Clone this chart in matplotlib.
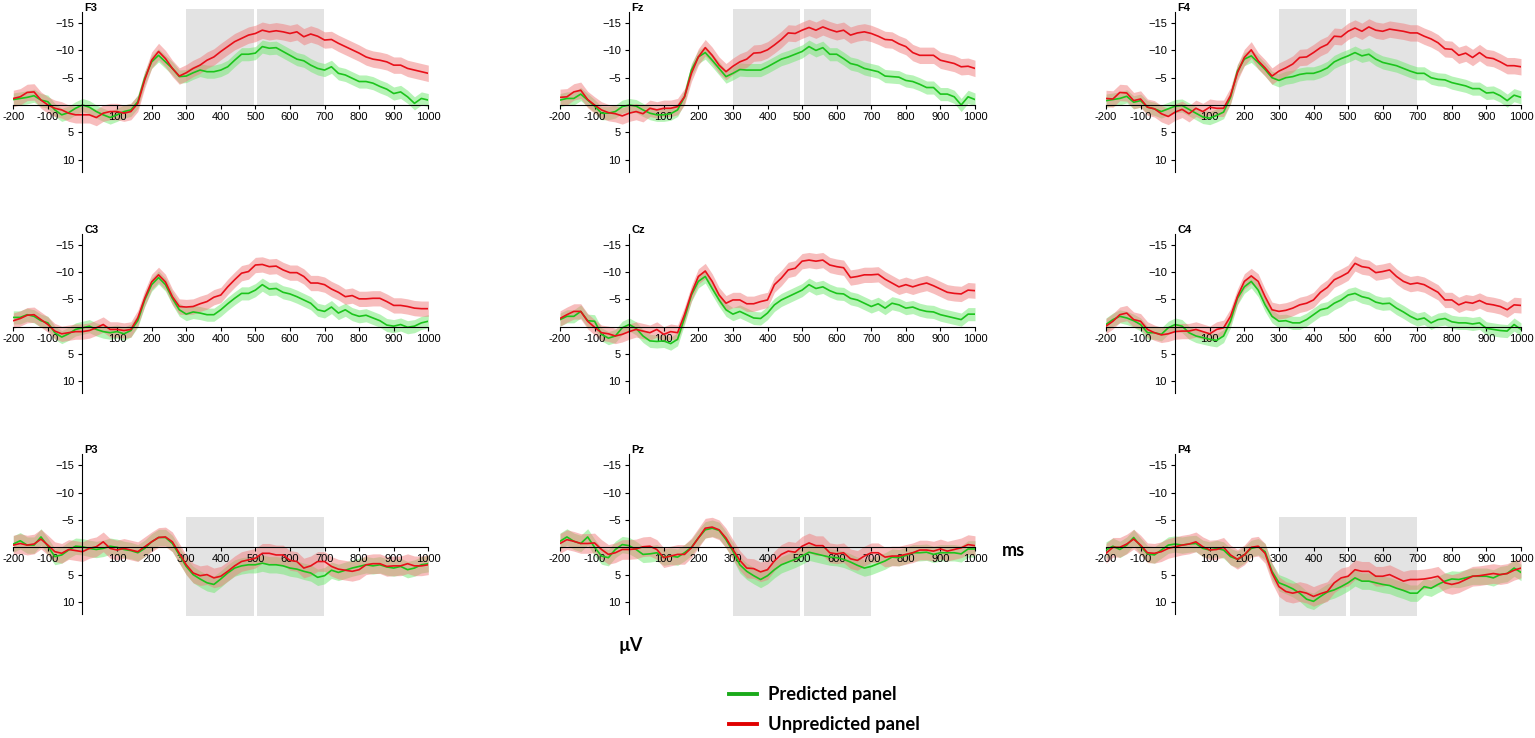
import numpy as np
import matplotlib
matplotlib.use('Agg')
import matplotlib.pyplot as plt
from matplotlib.lines import Line2D

# time axis (ms), one reading every 20 ms
times = np.arange(-200, 1001, 20)

# amplitudes in µV (negative is drawn up)
f3_pred = [-1.0, -1.2, -1.4, -1.7, -0.9, -0.6, 0.9, 1.8, 1.4, 0.6, 0.0, 0.4, 1.2, 1.8, 2.3, 1.8, 1.2, 0.9, -0.6, -4.9,
           -7.9, -9.1, -7.9, -6.7, -5.2, -5.3, -5.9, -6.4, -6.1, -6.1, -6.4, -7.0, -8.2, -9.3, -9.3, -9.5, -10.7, -10.4, -10.5, -9.8,
           -9.1, -8.4, -8.1, -7.3, -6.7, -6.4, -7.0, -5.8, -5.5, -4.9, -4.3, -4.3, -4.0, -3.4, -2.9, -2.1, -2.4, -1.5, -0.3, -1.2, -0.9]
f3_unpred = [-1.2, -1.5, -2.3, -2.4, -0.9, 0.0, 0.6, 0.9, 1.5, 1.8, 1.8, 1.8, 2.3, 1.5, 1.2, 1.2, 1.5, 1.2, -0.3, -4.6,
             -8.2, -9.8, -8.5, -6.7, -5.3, -5.9, -6.7, -7.3, -8.2, -8.8, -9.8, -10.7, -11.6, -12.2, -12.8, -13.1, -13.7, -13.4, -13.6, -13.4,
             -13.1, -13.4, -12.5, -13.0, -12.6, -11.9, -12.0, -11.3, -10.7, -10.1, -9.5, -8.8, -8.4, -8.2, -7.9, -7.3, -7.3, -6.7, -6.4, -6.1, -5.8]
fz_pred = [-0.9, -1.2, -1.2, -2.0, -0.9, 0.2, 1.5, 1.5, 1.2, 0.3, 0.0, 0.2, 0.9, 1.5, 1.8, 1.8, 1.6, 0.9, -1.5, -6.4,
           -8.8, -9.6, -8.2, -6.7, -5.2, -5.8, -6.5, -6.4, -6.4, -6.4, -7.0, -7.7, -8.4, -8.8, -9.3, -9.8, -10.7, -10.0, -10.5, -9.3,
           -9.3, -8.5, -7.6, -7.3, -6.7, -6.4, -6.1, -5.3, -5.2, -5.1, -4.5, -4.3, -3.8, -3.2, -3.2, -2.0, -2.0, -1.5, 0.0, -1.5, -1.0]
fz_unpred = [-1.4, -1.5, -2.4, -2.7, -1.0, 0.0, 0.9, 1.4, 1.6, 2.0, 1.5, 1.2, 1.6, 0.6, 0.9, 0.6, 0.6, 0.3, -1.5, -5.8,
             -8.8, -10.5, -9.1, -7.3, -6.1, -7.1, -7.9, -8.4, -9.5, -9.6, -10.1, -11.0, -12.0, -13.2, -13.1, -13.7, -14.2, -13.7, -14.3, -13.8,
             -13.4, -13.7, -12.8, -13.2, -13.4, -13.1, -12.6, -12.0, -11.9, -11.2, -10.7, -9.6, -9.1, -9.1, -9.1, -8.2, -7.9, -7.6, -7.0, -7.1, -6.7]
f4_pred = [-0.8, -1.0, -1.2, -1.6, -0.5, -0.8, 0.4, 0.7, 1.2, 0.7, 0.2, 0.1, 0.8, 1.5, 2.2, 2.4, 1.9, 1.3, -1.4, -6.2,
           -8.4, -9.0, -7.8, -6.5, -5.0, -4.5, -5.0, -5.2, -5.6, -5.8, -5.8, -6.2, -6.8, -7.9, -8.5, -9.0, -9.6, -9.0, -9.3, -8.4,
           -7.8, -7.5, -7.2, -6.7, -6.2, -5.8, -5.8, -5.0, -4.7, -4.6, -4.1, -3.8, -3.5, -3.0, -3.0, -2.2, -2.3, -1.7, -0.8, -1.8, -1.4]
f4_unpred = [-1.2, -1.1, -2.3, -2.2, -0.8, -1.1, 0.4, 0.7, 1.6, 2.1, 1.3, 0.8, 1.6, 0.6, 1.2, 0.4, 0.6, 0.6, -1.7, -5.9,
             -8.7, -10.1, -8.1, -6.8, -5.3, -6.2, -6.8, -7.5, -8.7, -8.8, -9.6, -10.5, -11.1, -12.6, -12.5, -13.5, -14.1, -13.5, -14.3, -13.7,
             -13.5, -13.9, -13.7, -13.5, -13.2, -13.2, -12.6, -12.1, -11.4, -10.3, -10.2, -9.1, -9.5, -8.7, -9.6, -8.7, -8.5, -7.9, -7.2, -7.2, -7.0]
c3_pred = [-1.7, -1.7, -2.2, -1.9, -1.1, -0.7, 1.1, 1.9, 1.3, 0.5, 0.2, -0.1, 0.5, 0.9, 1.1, 0.9, 1.3, 0.7, -1.1, -4.9,
           -7.7, -9.0, -7.7, -5.2, -3.1, -2.3, -2.7, -2.5, -2.2, -2.2, -3.1, -4.2, -5.2, -6.1, -6.1, -6.7, -7.7, -6.9, -7.0, -6.3,
           -6.0, -5.5, -4.9, -4.3, -3.1, -2.8, -3.6, -2.5, -3.1, -2.3, -1.9, -2.1, -1.6, -1.1, -0.3, -0.1, -0.4, 0.1, -0.1, -0.7, -1.0]
c3_unpred = [-1.1, -1.5, -2.1, -2.2, -1.3, -0.4, 0.8, 1.3, 1.1, 0.9, 0.9, 0.7, 0.2, -0.4, 0.5, 0.5, 0.7, 0.5, -1.6, -5.2,
             -8.2, -9.5, -8.2, -5.5, -3.7, -3.6, -3.7, -4.2, -4.6, -5.4, -5.8, -7.3, -8.6, -9.8, -10.1, -11.3, -11.4, -11.0, -11.1, -10.4,
             -9.9, -9.9, -9.2, -8.0, -8.0, -7.7, -6.9, -6.3, -5.5, -5.7, -5.1, -5.1, -5.2, -5.2, -4.6, -3.9, -3.9, -3.7, -3.4, -3.3, -3.3]
cz_pred = [-1.3, -1.9, -1.9, -2.8, -1.1, -1.0, 1.4, 2.1, 1.7, 0.2, -0.4, 0.3, 1.7, 2.6, 2.7, 2.6, 3.1, 2.3, -1.6, -5.8,
           -8.3, -9.2, -7.0, -4.9, -3.1, -2.3, -2.8, -2.2, -1.6, -1.5, -2.5, -4.0, -4.9, -5.5, -6.1, -6.7, -7.7, -7.0, -7.3, -6.6,
           -6.1, -6.0, -5.2, -4.9, -4.3, -3.7, -4.2, -3.4, -4.3, -4.0, -3.4, -3.6, -3.1, -2.8, -2.7, -2.2, -1.9, -1.6, -1.3, -2.3, -2.3]
cz_unpred = [-1.5, -2.2, -2.8, -2.8, -1.0, 0.1, 1.1, 1.3, 1.7, 1.4, 0.9, 0.5, 0.8, 1.1, 0.5, 1.4, 0.9, 1.1, -2.2, -6.1,
             -9.2, -10.2, -8.3, -5.8, -4.3, -4.9, -4.9, -4.2, -4.2, -4.6, -4.9, -7.7, -8.9, -10.4, -10.7, -12.0, -12.2, -12.0, -12.2, -11.3,
             -11.0, -10.8, -9.0, -9.2, -9.5, -9.5, -9.6, -8.7, -8.0, -7.3, -7.7, -7.3, -7.7, -8.0, -7.5, -6.9, -6.3, -6.1, -6.0, -6.7, -6.6]
c4_pred = [-0.4, -1.3, -1.9, -1.6, -1.1, -0.4, 1.1, 1.1, 1.4, 0.2, -0.4, -0.1, 1.1, 1.7, 2.0, 2.3, 2.5, 1.7, -1.0, -5.2,
           -7.3, -8.3, -6.7, -4.0, -1.9, -1.0, -1.1, -0.7, -0.7, -1.3, -2.2, -3.1, -3.4, -4.3, -4.9, -5.8, -6.1, -5.5, -5.2, -4.5,
           -4.2, -4.3, -3.4, -2.7, -1.9, -1.3, -1.6, -0.7, -1.3, -1.5, -0.9, -0.7, -0.7, -0.5, -0.7, 0.3, 0.5, 0.7, 0.8, -0.4, 0.5]
c4_unpred = [-0.1, -1.0, -2.2, -2.5, -1.3, -1.0, 0.5, 1.1, 1.5, 1.3, 0.9, 0.8, 0.8, 0.5, 0.9, 1.3, 0.5, 0.2, -1.9, -5.5,
             -8.3, -9.3, -8.3, -5.5, -3.1, -2.8, -3.0, -3.4, -4.0, -4.3, -4.9, -6.3, -7.2, -8.6, -9.2, -9.9, -11.6, -11.0, -10.8, -9.9,
             -10.1, -10.4, -9.2, -8.3, -7.8, -8.0, -7.7, -7.0, -6.3, -4.9, -4.9, -4.0, -4.5, -4.3, -4.8, -4.2, -4.0, -3.7, -3.1, -4.0, -3.9]
p3_pred = [-0.6, -1.2, -0.4, -0.4, -1.9, -0.2, 1.7, 1.4, 0.5, -0.2, -0.1, 0.2, 0.4, 0.2, -0.2, 0.0, 0.4, 0.6, 1.0, 0.2,
           -1.0, -1.8, -1.8, -0.7, 1.4, 3.5, 5.0, 5.8, 6.5, 6.8, 5.8, 4.7, 3.8, 3.4, 3.2, 3.2, 2.9, 3.2, 3.2, 3.4,
           3.8, 4.0, 4.4, 4.7, 5.5, 5.2, 4.2, 4.6, 4.2, 3.8, 3.5, 3.2, 3.4, 3.2, 3.6, 3.8, 3.5, 4.1, 3.8, 3.2, 3.0]
p3_unpred = [-0.4, -0.7, -0.4, -0.6, -1.5, -0.4, 0.8, 1.1, 0.4, 0.6, 0.8, 0.2, -0.1, -1.0, 0.2, 0.5, 0.2, 0.5, 0.8, -0.1,
             -1.0, -1.8, -1.9, -1.0, 1.1, 3.2, 4.7, 5.2, 5.0, 5.6, 5.3, 4.4, 3.4, 2.6, 2.3, 2.0, 1.1, 1.1, 1.4, 1.4,
             2.4, 2.6, 3.8, 3.4, 2.6, 2.6, 3.5, 4.0, 4.2, 4.4, 4.1, 3.2, 3.0, 3.0, 3.5, 3.4, 3.4, 3.0, 3.4, 3.4, 3.2]
pz_pred = [-1.1, -1.9, -1.1, -0.7, -1.9, 0.0, 1.6, 1.9, 0.4, -0.5, -0.3, 0.4, 1.3, 1.2, 1.0, 1.8, 1.6, 1.8, 1.0, 0.0,
           -1.7, -3.2, -3.5, -3.1, -1.4, 0.7, 3.2, 4.4, 5.2, 5.9, 5.2, 4.1, 3.2, 2.7, 2.2, 1.6, 0.9, 1.2, 1.5, 1.8,
           1.9, 2.2, 2.7, 3.3, 3.8, 3.5, 3.0, 2.5, 1.8, 1.9, 1.5, 1.0, 1.0, 0.9, 1.3, 1.0, 1.0, 1.0, 1.2, 0.3, 0.3]
pz_unpred = [-0.7, -1.4, -1.1, -0.7, -0.7, -0.8, 0.4, 1.3, 1.0, 0.4, 0.4, 0.3, -0.1, -0.2, 0.4, 1.9, 1.6, 1.3, 1.3, 0.1,
             -1.7, -3.5, -3.7, -3.2, -1.7, 0.4, 2.4, 3.8, 3.9, 4.5, 4.1, 2.5, 1.3, 0.7, 0.9, -0.2, -0.8, -0.3, -0.3, 1.0,
             1.2, 1.0, 2.1, 2.4, 1.6, 1.0, 1.0, 1.8, 1.6, 1.6, 1.3, 1.0, 0.5, 0.5, 0.7, 0.3, 0.7, 0.4, 0.1, -0.5, -0.3]
p4_pred = [0.5, -0.2, 0.4, -0.4, -1.8, -0.2, 1.2, 1.4, 0.5, -0.4, -0.6, -0.4, -0.6, -0.7, 0.2, 0.5, 0.2, 0.5, 1.7, 2.2,
           1.4, 0.2, -0.1, 0.8, 4.4, 6.5, 7.0, 7.6, 8.4, 9.5, 9.9, 9.0, 8.2, 7.8, 7.2, 6.5, 5.6, 6.2, 6.2, 6.5,
           6.8, 7.0, 7.5, 7.9, 8.4, 8.4, 7.2, 7.5, 6.8, 6.2, 5.8, 5.9, 5.6, 5.3, 5.3, 5.3, 5.6, 5.0, 4.8, 3.8, 4.6]
p4_unpred = [1.1, 0.0, 0.0, -0.6, -1.5, -0.4, 1.0, 1.1, 0.8, 0.2, -0.1, -0.4, -0.6, -1.0, -0.1, 0.5, 0.4, 0.0, 1.4, 2.2,
             1.4, 0.0, -0.2, 1.1, 4.7, 7.2, 8.1, 8.4, 8.1, 8.4, 9.0, 8.5, 8.1, 6.5, 5.6, 5.3, 4.1, 4.4, 4.4, 5.3,
             5.3, 5.0, 5.6, 6.2, 5.9, 5.9, 5.8, 5.6, 5.3, 6.5, 6.8, 6.5, 5.9, 5.3, 5.2, 5.0, 4.8, 5.0, 4.8, 4.2, 3.8]

channels = ['F3', 'Fz', 'F4', 'C3', 'Cz', 'C4', 'P3', 'Pz', 'P4']
pred = [f3_pred, fz_pred, f4_pred, c3_pred, cz_pred, c4_pred, p3_pred, pz_pred, p4_pred]
unpred = [f3_unpred, fz_unpred, f4_unpred, c3_unpred, cz_unpred, c4_unpred, p3_unpred, pz_unpred, p4_unpred]
# half width of the shaded band (µV)
pred_se = [1.2, 1.2, 1.2, 1.2, 1.2, 1.2, 1.5, 1.5, 1.5]
unpred_se = [1.5, 1.5, 1.5, 1.4, 1.4, 1.4, 1.8, 1.8, 1.8]

# analysis windows (ms) and their vertical extent per row (µV)
windows = [(300, 495), (505, 698)]
window_y = {0: (-17.5, 0), 1: None, 2: (-5.6, 12.6)}

x_ticks = [-200, -100, 0, 100, 200, 300, 400, 500, 600, 700, 800, 900, 1000]
x_labels = ['-200', '-100', '', '100', '200', '300', '400', '500', '600', '700', '800', '900', '1000']
y_ticks = [-15, -10, -5, 5, 10]

W, H = 1535, 738
fig = plt.figure(figsize=(W / 100, H / 100), dpi=100)
plt.rcParams['font.family'] = ['Liberation Sans', 'DejaVu Sans']

col_left = [13.3, 560, 1106]
col_w = 415
row_zero = [105, 326.7, 547.3]
px_uv = 5.46
y_top, y_bot = -17.5, 12.6

green_line = '#1cc41c'
red_line = '#e8101a'
green_fill = '#6fe86f'
red_fill = '#f07c7c'

for i, ch in enumerate(channels):
    r, c = divmod(i, 3)
    top_px = row_zero[r] + y_top * px_uv
    bot_px = row_zero[r] + y_bot * px_uv
    ax = fig.add_axes([col_left[c] / W, 1 - bot_px / H, col_w / W, (bot_px - top_px) / H])
    ax.set_xlim(-200, 1000)
    ax.set_ylim(y_bot, y_top)

    if window_y[r] is not None:
        for (a, b) in windows:
            ax.fill_between([a, b], window_y[r][0], window_y[r][1], color='#e3e3e3', lw=0, zorder=0)

    p = np.array(pred[i])
    u = np.array(unpred[i])
    ax.fill_between(times, p - pred_se[i], p + pred_se[i], color=green_fill, alpha=0.5, lw=0, zorder=1)
    ax.fill_between(times, u - unpred_se[i], u + unpred_se[i], color=red_fill, alpha=0.5, lw=0, zorder=1)
    ax.plot(times, p, color=green_line, lw=1.2, zorder=3)
    ax.plot(times, u, color=red_line, lw=1.2, zorder=4)

    for s in ['top', 'right']:
        ax.spines[s].set_visible(False)
    ax.spines['left'].set_position(('data', 0))
    ax.spines['bottom'].set_position(('data', 0))
    ax.spines['left'].set_bounds(-17, 12.2)
    ax.spines['left'].set_zorder(5)
    ax.spines['bottom'].set_zorder(5)
    ax.set_xticks(x_ticks)
    ax.set_xticklabels(x_labels)
    ax.set_yticks(y_ticks)
    ax.tick_params(axis='both', labelsize=8, length=3, width=0.8, direction='out', pad=2)
    ax.tick_params(axis='y', pad=3)
    ax.patch.set_alpha(0)
    ax.text(6, 1.008, ch, transform=ax.get_xaxis_transform(), fontsize=8, fontweight='bold',
            ha='left', va='center')

fig.text(1013 / W, 1 - 550 / H, 'ms', fontsize=13, fontweight='bold', family='Lato',
         ha='center', va='center')
fig.text(631 / W, 1 - 645 / H, 'µV', fontsize=13, fontweight='bold', family='Lato',
         ha='center', va='center')

handles = [Line2D([], [], color='#1aaa1a', lw=2.8), Line2D([], [], color='#e00000', lw=2.8)]
fig.legend(handles, ['Predicted panel', 'Unpredicted panel'], loc='upper left',
           bbox_to_anchor=(729 / W, 1 - 686 / H), frameon=False, borderpad=0, borderaxespad=0,
           handlelength=1.5, handletextpad=0.65, labelspacing=0.72,
           prop={'family': 'Lato', 'weight': 'bold', 'size': 13.2})

fig.savefig('out.png', dpi=100)
